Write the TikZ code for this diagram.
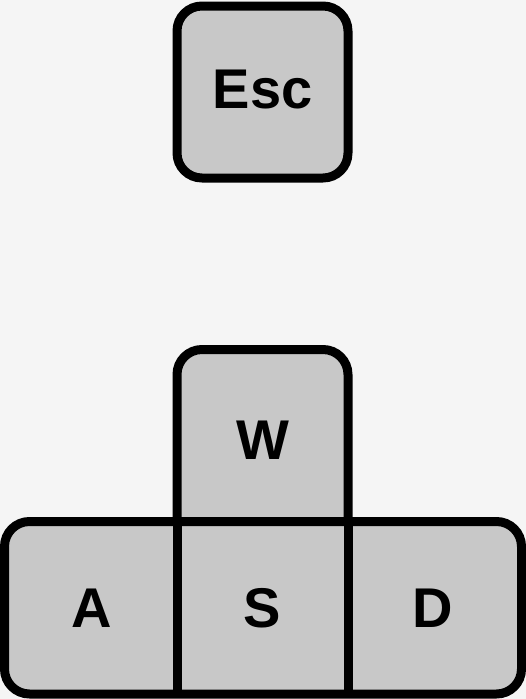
\documentclass[tikz,border=0pt]{standalone}
\usepackage{fontspec}
\setmainfont{Liberation Sans}
\definecolor{bgc}{HTML}{F5F5F5}
\definecolor{keyc}{HTML}{C8C8C8}
\begin{document}
\begin{tikzpicture}[x=1pt,y=1pt,
  keyfill/.style={fill=keyc},
  keyline/.style={draw=black,line width=9pt,line join=round},
  keylabel/.style={font=\fontsize{56}{60}\selectfont\bfseries,text=black,inner sep=0pt}]
\useasboundingbox (0,0) rectangle (526,-699);
\fill[bgc] (0,0) rectangle (526,-699);
% Esc key
\path[keyfill,keyline,rounded corners=25] (177,-6) rectangle (348,-178);
% W key
\fill[keyfill,rounded corners=25] (177,-600) rectangle (348,-349.5);
% bottom row
\path[keyfill,keyline,rounded corners=25] (4.5,-521.5) rectangle (521.5,-694);
\draw[keyline,rounded corners=25] (177,-521.5) -- (177,-349.5) -- (348,-349.5) -- (348,-521.5);
\draw[keyline] (177,-521.5) -- (177,-694);
\draw[keyline] (348,-521.5) -- (348,-694);
% labels
\node[keylabel] (esc) at (262.5,-90) {Esc};
\node[keylabel] (w) at (262.5,-440) {W};
\node[keylabel] (a) at (92,-608) {A};
\node[keylabel] (s) at (262.5,-608) {S};
\node[keylabel] (d) at (433,-608) {D};
\end{tikzpicture}
\end{document}
